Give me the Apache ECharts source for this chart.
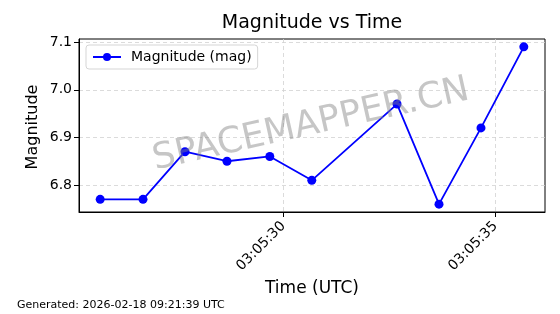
<!DOCTYPE html>
<html>
<head>
<meta charset="utf-8">
<script src="https://cdn.jsdelivr.net/npm/echarts@6/dist/echarts.min.js"></script>
<style>html,body{margin:0;padding:0;background:#fff}#c{width:560px;height:314px}</style>
</head>
<body>
<div id="c"></div>
<script>
var times = ['03:05:25.68','03:05:26.69','03:05:27.68','03:05:28.67','03:05:29.68','03:05:30.67','03:05:32.68','03:05:33.67','03:05:34.66','03:05:35.67'];
var mags = [6.77, 6.77, 6.87, 6.85, 6.86, 6.81, 6.97, 6.76, 6.92, 7.09];
var xTickLabels = ['03:05:30', '03:05:35'];
var yTickLabels = [6.8, 6.9, 7.0, 7.1];
var dateStr = '2026-02-18';

function toMs(t) {
  var p = t.split(':');
  return Date.UTC(2026, 1, 18, +p[0], +p[1], 0) + Math.round(parseFloat(p[2]) * 1000);
}
function pad(n) { return (n < 10 ? '0' : '') + n; }
function fmt(v) {
  var d = new Date(v);
  return pad(d.getUTCHours()) + ':' + pad(d.getUTCMinutes()) + ':' + pad(d.getUTCSeconds());
}
var xs = times.map(toMs);
var xTicks = xTickLabels.map(toMs);
var xMin = Math.min.apply(null, xs), xMax = Math.max.apply(null, xs);
var xm = (xMax - xMin) * 0.05;
var yMin = Math.min.apply(null, mags), yMax = Math.max.apply(null, mags);
var ym = (yMax - yMin) * 0.05;

var FONT = 'DejaVu Sans';
var chart = echarts.init(document.getElementById('c'), null, {renderer: 'canvas'});
chart.setOption({
  animation: false,
  textStyle: {fontFamily: FONT},
  grid: {left: 79, right: 15, top: 39, bottom: 102, show: true, borderColor: '#000', borderWidth: 1, backgroundColor: 'transparent'},
  legend: {
    left: 86, top: 45, padding: [5, 6, 5, 6], itemWidth: 28, itemHeight: 10, itemGap: 8,
    borderColor: '#d5d5d5', borderWidth: 1, borderRadius: 3, backgroundColor: 'rgba(255,255,255,0.8)',
    textStyle: {fontFamily: FONT, fontSize: 14, color: '#000', padding: [0, 0, 0, 5]},
    data: ['Magnitude (mag)']
  },
  xAxis: {
    type: 'value', min: xMin - xm, max: xMax + xm,
    axisLine: {show: true, lineStyle: {color: '#000', width: 1}},
    axisTick: {show: true, length: 5, lineStyle: {color: '#000'}, customValues: xTicks},
    axisLabel: {show: true, rotate: 45, fontFamily: FONT, fontSize: 14, color: '#000', margin: 12, customValues: xTicks, formatter: fmt},
    splitLine: {show: true, lineStyle: {color: '#d2d2d2', type: [4, 3], width: 0.8}}
  },
  yAxis: {
    type: 'value', min: yMin - ym, max: yMax + ym,
    axisLine: {show: true, lineStyle: {color: '#000', width: 1}},
    axisTick: {show: true, length: 5, lineStyle: {color: '#000'}, customValues: yTickLabels},
    axisLabel: {show: true, fontFamily: FONT, fontSize: 14, color: '#000', margin: 7, customValues: yTickLabels, formatter: function (v) { return v.toFixed(1); }},
    splitLine: {show: true, lineStyle: {color: '#d2d2d2', type: [4, 3], width: 0.8}}
  },
  graphic: [
    {type: 'text', x: 312, y: 23, style: {text: 'Magnitude vs Time', font: '19px "DejaVu Sans"', fill: '#000', align: 'center', verticalAlign: 'middle'}},
    {type: 'text', x: 312, y: 289, style: {text: 'Time (UTC)', font: '17px "DejaVu Sans"', fill: '#000', align: 'center', verticalAlign: 'middle'}},
    {type: 'text', x: 33, y: 127, rotation: Math.PI / 2, style: {text: 'Magnitude', font: '16px "DejaVu Sans"', fill: '#000', align: 'center', verticalAlign: 'middle'}},
    {type: 'text', x: 17, y: 305, style: {text: 'Generated: ' + dateStr + ' 09:21:39 UTC', font: '11px "DejaVu Sans"', fill: '#000', align: 'left', verticalAlign: 'middle'}},
    {type: 'text', x: 311, y: 125, rotation: 0.22, z: 100, style: {text: 'SPACEMAPPER.CN', font: '36px "DejaVu Sans"', fill: 'rgba(128,128,128,0.45)', align: 'center', verticalAlign: 'middle'}}
  ],
  series: [{
    name: 'Magnitude (mag)', type: 'line',
    data: xs.map(function (x, i) { return [x, mags[i]]; }),
    symbol: 'circle', symbolSize: 9, showSymbol: true,
    lineStyle: {color: '#0000ff', width: 1.8},
    itemStyle: {color: '#0000ff'}
  }]
});
</script>
</body>
</html>
